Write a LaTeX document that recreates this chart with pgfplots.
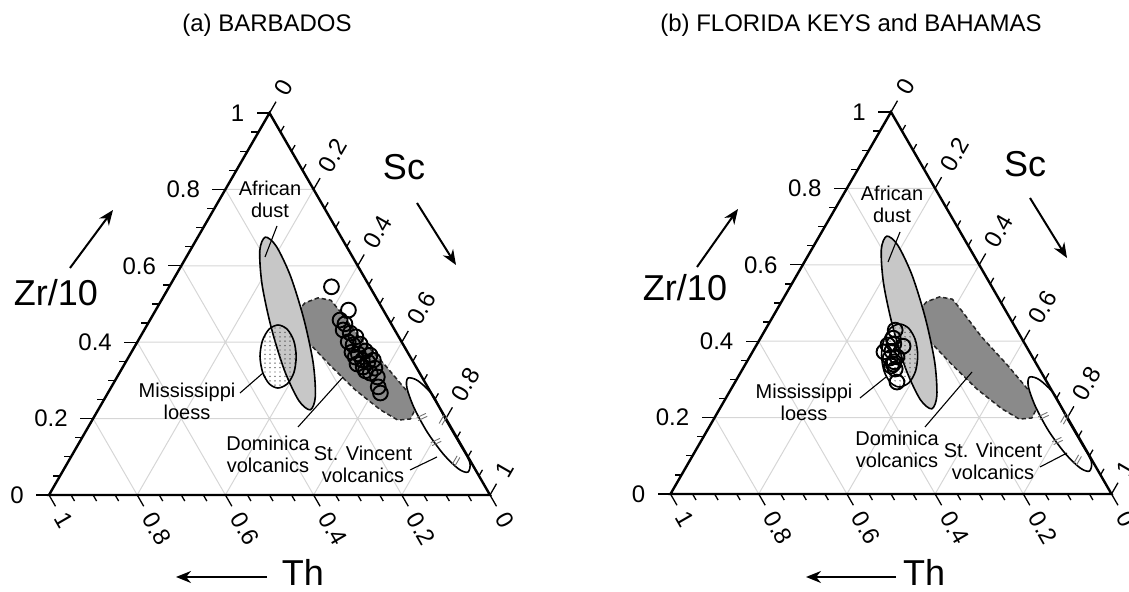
\documentclass[border=0pt]{standalone}
\usepackage{fontspec}
\setmainfont{Liberation Sans}
\usepackage{pgfplots}
\pgfplotsset{compat=1.18}
\usepackage{pgfplotstable}
\usetikzlibrary{calc,arrows.meta,patterns}

\pgfdeclarepatternformonly{sparsedots}{\pgfqpoint{-0.5pt}{-0.5pt}}{\pgfqpoint{0.5pt}{0.5pt}}{\pgfqpoint{2.5pt}{2.2pt}}{%
  \pgfpathcircle{\pgfqpoint{0pt}{0pt}}{0.36pt}\pgfusepath{fill}}

% ternary data: zr = Zr/10 fraction, sc = Sc fraction (Th = 1 - zr - sc)
\pgfplotstableread{
zr sc
0.675 0.153
0.651 0.190
0.572 0.262
0.460 0.348
0.346 0.426
0.258 0.475
0.223 0.481
0.247 0.443
0.326 0.371
0.438 0.285
0.552 0.207
0.640 0.158
}\dust
\pgfplotstableread{
zr sc
0.445 0.297
0.434 0.323
0.404 0.353
0.363 0.379
0.321 0.395
0.291 0.395
0.280 0.379
0.291 0.354
0.321 0.324
0.363 0.297
0.404 0.282
0.434 0.282
}\loess
\pgfplotstableread{
zr sc
0.406 0.362
0.479 0.323
0.503 0.329
0.516 0.352
0.510 0.384
0.487 0.412
0.411 0.500
0.340 0.592
0.262 0.688
0.228 0.718
0.199 0.720
0.196 0.693
0.223 0.640
0.275 0.557
0.340 0.467
0.390 0.401
}\dominica
\pgfplotstableread{
zr sc
0.060 0.920
0.086 0.911
0.136 0.862
0.200 0.798
0.261 0.740
0.299 0.687
0.306 0.661
0.281 0.671
0.229 0.713
0.165 0.775
0.106 0.842
0.068 0.895
}\stvincent
\pgfplotstableread{
zr sc
0.545 0.368
0.484 0.437
0.458 0.431
0.432 0.451
0.424 0.471
0.414 0.489
0.401 0.478
0.393 0.493
0.395 0.508
0.374 0.500
0.369 0.517
0.377 0.529
0.366 0.545
0.353 0.534
0.348 0.549
0.353 0.559
0.343 0.527
0.335 0.545
0.332 0.573
0.319 0.569
0.325 0.555
0.309 0.590
0.283 0.605
0.267 0.618
0.361 0.514
0.448 0.447
}\barbados
\pgfplotstableread{
zr sc
0.429 0.295
0.408 0.301
0.393 0.310
0.387 0.334
0.372 0.298
0.374 0.315
0.356 0.320
0.359 0.334
0.346 0.334
0.335 0.333
0.327 0.346
0.340 0.335
0.293 0.367
0.390 0.298
}\florida

\pgfplotsset{
  tern/.style={scale only axis, width=220.5pt, height=191pt,
    xmin=0, xmax=1, ymin=0, ymax=1, hide axis, clip=false,
    anchor=south west, unbounded coords=jump},
}
\tikzset{
  tk/.style={black, line width=0.65pt},
  lab/.style={font=\fontsize{12}{14}\selectfont, inner sep=0pt},
  ann/.style={font=\fontsize{10}{11}\selectfont, align=center, inner sep=0pt},
  big/.style={font=\fontsize{18}{20}\selectfont, inner sep=0pt, anchor=base},
  ttl/.style={font=\fontsize{12}{14}\selectfont, inner sep=0pt, anchor=base},
  ar/.style={-{Stealth[length=7.5pt,width=6pt]}, line width=1pt},
  ld/.style={line width=0.55pt},
}

\newcommand\terngrid{%
  \addplot[black!16, line width=0.5pt] coordinates {
    (0.1,0.2) (0.9,0.2) (nan,nan) (0.2,0.4) (0.8,0.4) (nan,nan)
    (0.3,0.6) (0.7,0.6) (nan,nan) (0.4,0.8) (0.6,0.8) (nan,nan)
    (0.2,0) (0.6,0.8) (nan,nan) (0.4,0) (0.7,0.6) (nan,nan)
    (0.6,0) (0.8,0.4) (nan,nan) (0.8,0) (0.9,0.2) (nan,nan)
    (0.8,0) (0.4,0.8) (nan,nan) (0.6,0) (0.3,0.6) (nan,nan)
    (0.4,0) (0.2,0.4) (nan,nan) (0.2,0) (0.1,0.2)};
}
\newcommand\ternshapes{%
  \addplot[fill=black!46, draw=black!85, line width=0.75pt, dash pattern=on 2.2pt off 1.4pt]
    table[x expr=\thisrow{sc}+0.5*\thisrow{zr}, y=zr] {\dominica} -- cycle;
  \addplot[fill=white, draw=black, line width=0.8pt, smooth cycle]
    table[x expr=\thisrow{sc}+0.5*\thisrow{zr}, y=zr] {\stvincent};
  \addplot[fill=black!22, draw=black, line width=0.8pt, smooth cycle]
    table[x expr=\thisrow{sc}+0.5*\thisrow{zr}, y=zr] {\dust};
  \addplot[pattern=sparsedots, pattern color=black!75, draw=black, line width=0.8pt, smooth cycle]
    table[x expr=\thisrow{sc}+0.5*\thisrow{zr}, y=zr] {\loess};
  \addplot[black, line width=1.2pt, line join=miter] coordinates {(0,0) (1,0) (0.5,1)} -- cycle;
}
\newcommand\ternticks{%
  \pgfplotsinvokeforeach{0.05,0.1,0.15,0.25,0.3,0.35,0.45,0.5,0.55,0.65,0.7,0.75,0.85,0.9,0.95}{
    \draw[tk] (axis cs:{##1/2},##1) -- ++(-3.5pt,0);
    \draw[tk] (axis cs:{(1+##1)/2},{1-##1}) -- ++(60:3.5pt);
    \draw[tk] (axis cs:{1-##1},0) -- ++(-60:3.5pt);
  }
  \pgfplotsinvokeforeach{0,0.2,0.4,0.6,0.8,1}{
    \draw[tk] (axis cs:{##1/2},##1) -- ++(-6.5pt,0);
    \draw[tk] (axis cs:{(1+##1)/2},{1-##1}) -- ++(60:6.5pt);
    \draw[tk] (axis cs:{1-##1},0) -- ++(-60:6.5pt);
    \node[lab, anchor=east] at ($(axis cs:{##1/2},##1)+(-12.5pt,0)$) {##1};
    \node[lab, anchor=west, rotate=60] at ($(axis cs:{(1+##1)/2},{1-##1})+(60:11pt)$) {##1};
    \node[lab, anchor=west, rotate=-60] at ($(axis cs:{1-##1},0)+(-60:11pt)$) {##1};
  }
}
\newcommand\brk[3]{\draw[black!55, line width=0.45pt, shift={(#1,#2)}, rotate=#3] (-5,-1.6)--(5,-1.6) (-5,1.6)--(5,1.6);}

\begin{document}
\begin{tikzpicture}
\useasboundingbox (0,0) rectangle (564.5pt,296pt);

% (a) Barbados
\begin{axis}[tern, at={(24.5pt,48.5pt)}]
  \terngrid
  \ternshapes
  \ternticks
  \addplot[only marks, mark=o, mark size=3.7pt, line width=0.95pt, black]
    table[x expr=\thisrow{sc}+0.5*\thisrow{zr}, y=zr] {\barbados};
\end{axis}

% (b) Florida Keys and Bahamas
\begin{axis}[tern, at={(335.25pt,49pt)}]
  \terngrid
  \ternshapes
  \ternticks
  \addplot[only marks, mark=o, mark size=3.7pt, line width=0.95pt, black]
    table[x expr=\thisrow{sc}+0.5*\thisrow{zr}, y=zr] {\florida};
\end{axis}

\begin{scope}[x=0.5pt, y=-0.5pt, shift={(0pt,296pt)}]
  % titles
  \node[ttl] at (267,32) {(a) BARBADOS};
  \node[ttl] at (851,32) {(b) FLORIDA KEYS and BAHAMAS};
  % axis names and arrows, left
  \node[big] at (56,306) {Zr/10};
  \node[big] at (404,180) {Sc};
  \node[big] at (303,586) {Th};
  \draw[ar] (70,268) -- (113,210);
  \draw[ar] (417,203) -- (456,265);
  \draw[ar] (267,577) -- (176,577);
  % right
  \node[big] at (685,301) {Zr/10};
  \node[big] at (1025,177) {Sc};
  \node[big] at (924,586) {Th};
  \draw[ar] (697,267) -- (738,209);
  \draw[ar] (1030,198) -- (1067,258);
  \draw[ar] (896,577) -- (806,577);
  % annotations left
  \node[ann] at (270,199) {African\\dust};
  \draw[ld] (277,226) -- (265,257);
  \node[ann] at (187,401) {Mississippi\\loess};
  \draw[ld] (240,393) -- (263,373);
  \node[ann] at (268,454) {Dominica\\volcanics};
  \draw[ld] (298,427) -- (343,377);
  \node[ann] at (363,464) {St. Vincent\\volcanics};
  \draw[ld] (410,470) -- (437,457);
  \brk{422}{417}{25}
  \brk{443}{420}{60}
  \brk{436}{442}{25}
  \brk{456}{461}{60}
  % annotations right
  \node[ann] at (892,204) {African\\dust};
  \draw[ld] (900,232) -- (888,262);
  \node[ann] at (804,402) {Mississippi\\loess};
  \draw[ld] (860,398) -- (886,377);
  \node[ann] at (897,449) {Dominica\\volcanics};
  \draw[ld] (925,427) -- (972,372);
  \node[ann] at (993,461) {St. Vincent\\volcanics};
  \draw[ld] (1040,467) -- (1067,453);
  \brk{1043.5}{416}{25}
  \brk{1064.5}{419}{60}
  \brk{1057.5}{441}{25}
  \brk{1077.5}{460}{60}
\end{scope}
\end{tikzpicture}
\end{document}
